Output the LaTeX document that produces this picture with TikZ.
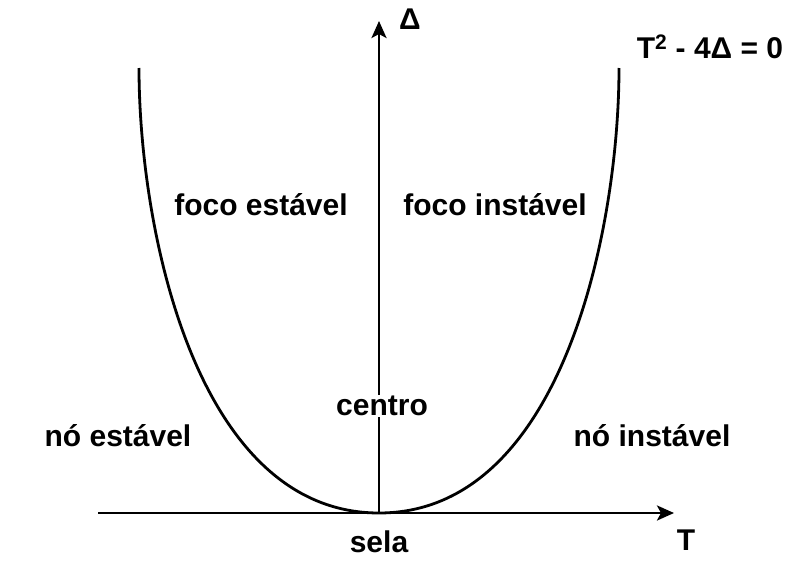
\documentclass[tikz,border=0pt]{standalone}
\usepackage{fontspec}
\setmainfont{Liberation Sans}
\usepackage{tikz}
\usetikzlibrary{arrows.meta}

\begin{document}
\begin{tikzpicture}[
    x=1pt, y=-1pt,
    axis/.style={line width=2.8pt, -{Stealth[length=17pt, width=15pt, inset=4pt]}},
    lbl/.style={font=\fontsize{30}{32}\selectfont\bfseries, inner sep=1pt}
]
\useasboundingbox (0,0) rectangle (797,570);
% axes
\coordinate (tstart) at (98,513);
\coordinate (tend) at (674,513);
\coordinate (origin) at (379,513);
\coordinate (dtop) at (379,21);
\draw[axis] (tstart) -- (tend);
\draw[axis] (origin) -- (dtop);
% T^2 - 4 Delta = 0
\coordinate (ltop) at (139,68);
\coordinate (rtop) at (619,68);
\draw[line width=2.8pt] (ltop) .. controls (139,227) and (195,513) .. (origin)
    .. controls (563,513) and (619,227) .. (rtop);
% labels
\node[lbl] (delta) at (410,19) {Δ};
\node[lbl] (tlabel) at (686,540) {T};
\node[lbl] (curve) at (710,47) {T\textsuperscript{2} - 4Δ = 0};
\node[lbl] (focoest) at (261,205) {foco estável};
\node[lbl] (focoinst) at (495,205) {foco instável};
\node[lbl, fill=white] (centro) at (382,406) {centro};
\node[lbl] (noest) at (118,436) {nó estável};
\node[lbl] (noinst) at (652,436) {nó instável};
\node[lbl] (sela) at (379,542) {sela};
\end{tikzpicture}
\end{document}
